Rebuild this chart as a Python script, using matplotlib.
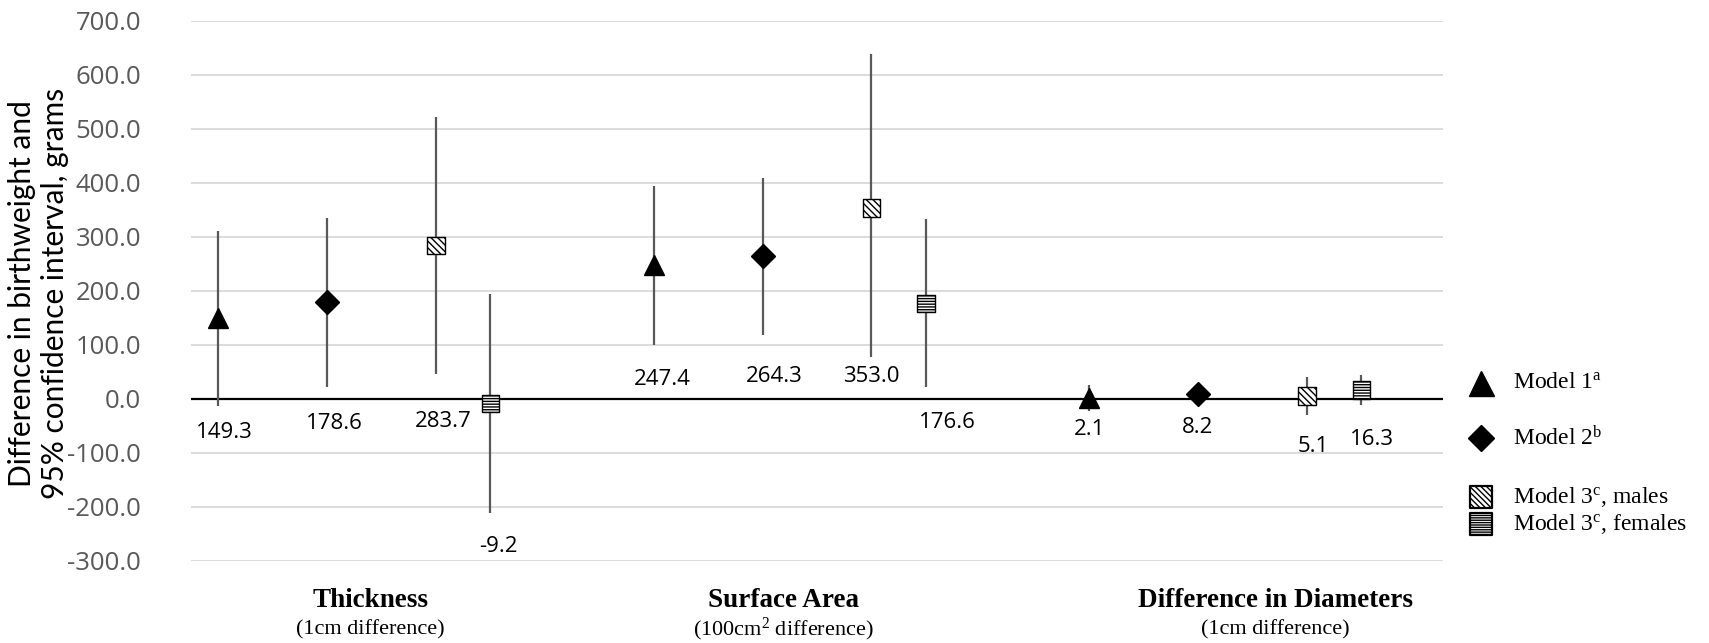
import matplotlib
matplotlib.use("Agg")
import matplotlib.pyplot as plt

# ---------------- data ----------------
groups = ["Thickness", "Surface Area", "Difference in Diameters"]
group_sub = ["(1cm difference)", "(100cm$^{2}$ difference)", "(1cm difference)"]

m1_est = [149.3, 247.4, 2.1]
m1_lo = [-13, 99, -22]
m1_hi = [311, 394, 25]

m2_est = [178.6, 264.3, 8.2]
m2_lo = [22, 118, -12]
m2_hi = [334, 409, 28]

m3m_est = [283.7, 353.0, 5.1]
m3m_lo = [46, 77, -30]
m3m_hi = [522, 638, 40]

m3f_est = [-9.2, 176.6, 16.3]
m3f_lo = [-212, 22, -12]
m3f_hi = [194, 332, 44]

yticks = [-300, -200, -100, 0, 100, 200, 300, 400, 500, 600, 700]

# ---------------- layout (not data) ----------------
model_offset = [0.0, 1.0, 2.0, 2.5]
group_step = 4.0
label_y = [[-62, 35, -57], [-46, 41, -54], [-43, 41, -89], [-274, -45, -76]]
label_dx = [[0.055, 0.08, 0.0], [0.07, 0.11, 0.0], [0.07, 0.0, 0.06], [0.07, 0.2, 0.1]]

plt.rcParams["mathtext.fontset"] = "custom"
plt.rcParams["mathtext.rm"] = "Liberation Serif"
plt.rcParams["mathtext.it"] = "Liberation Serif:italic"
plt.rcParams["mathtext.bf"] = "Liberation Serif:bold"
plt.rcParams["hatch.linewidth"] = 1.0

fig = plt.figure(figsize=(17.09, 6.43), dpi=100)
ax = fig.add_axes([0.1118, 0.128, 0.7325, 0.8398])

ax.set_xlim(0.75, 12.25)
ax.set_ylim(-300, 700)
ax.set_yticks(yticks)
ax.set_yticklabels([f"{v:.1f}" for v in yticks], fontsize=18.5, color="#595959",
                   family="Open Sans")
ax.tick_params(axis="y", length=0, pad=36)
ax.set_xticks([])
for s in ax.spines.values():
    s.set_visible(False)
ax.grid(axis="y", color="#d9d9d9", linewidth=1.3, zorder=0)
ax.set_axisbelow(True)
ax.axhline(0, color="black", linewidth=1.6, zorder=2)

series = [
    (m1_est, m1_lo, m1_hi),
    (m2_est, m2_lo, m2_hi),
    (m3m_est, m3m_lo, m3m_hi),
    (m3f_est, m3f_lo, m3f_hi),
]

err_color = "#595959"
for k, (est, lo, hi) in enumerate(series):
    xs = [g * group_step + 1 + model_offset[k] for g in range(len(groups))]
    ax.vlines(xs, lo, hi, color=err_color, linewidth=1.6, zorder=3)
    if k == 0:
        ax.plot(xs, est, linestyle="none", marker="^", markersize=13.7,
                color="black", zorder=5)
    elif k == 1:
        ax.plot(xs, est, linestyle="none", marker="D", markersize=12.5,
                color="black", zorder=5)
    elif k == 2:
        ax.scatter(xs, est, marker="s", s=12.5 ** 2, facecolor="white",
                   edgecolor="black", linewidth=1.0, hatch="\\\\\\\\\\", zorder=5)
    else:
        ax.scatter(xs, est, marker="s", s=12.5 ** 2, facecolor="white",
                   edgecolor="black", linewidth=1.0, hatch="------", zorder=5)
    for g, x in enumerate(xs):
        ax.text(x + label_dx[k][g], label_y[k][g], f"{est[g]:.1f}",
                ha="center", va="center", fontsize=16, family="Open Sans",
                color="black", zorder=6)

# category labels
cat_x = [2.40, 6.19, 10.71]
for g in range(len(groups)):
    ax.text(cat_x[g], -0.073, groups[g], transform=ax.get_xaxis_transform(),
            ha="center", va="center", fontsize=19.5, fontweight="bold",
            family="Liberation Serif")
    ax.text(cat_x[g], -0.128, group_sub[g], transform=ax.get_xaxis_transform(),
            ha="center", va="center", fontsize=16, family="Liberation Serif")

# y label
fig.text(0.0225, 0.543, "Difference in birthweight and\n95% confidence interval, grams",
         rotation=90, ha="center", va="center", fontsize=21.5, family="Lato",
         linespacing=1.25)

# legend (drawn manually)
leg_items = [
    ("^", r"Model 1$^{\mathrm{a}}$", 383, None),
    ("D", r"Model 2$^{\mathrm{b}}$", 438, None),
    ("s", r"Model 3$^{\mathrm{c}}$, males", 497, "\\\\\\\\\\\\"),
    ("s", r"Model 3$^{\mathrm{c}}$, females", 524, "-------"),
]
W, H = 1709.0, 643.0
lax = fig.add_axes([0, 0, 1, 1], facecolor="none")
lax.set_xlim(0, W)
lax.set_ylim(H, 0)
lax.axis("off")
for mk, lab, ypx, hatch in leg_items:
    if hatch is None:
        ms = 18 if mk == "^" else 13
        lax.plot([1481], [ypx], marker=mk, markersize=ms, color="black",
                 linestyle="none")
    else:
        lax.scatter([1481], [ypx], marker="s", s=16 ** 2, facecolor="white",
                    edgecolor="black", linewidth=1.6, hatch=hatch)
    lax.text(1513, ypx, lab, ha="left", va="center", fontsize=17,
             family="Liberation Serif")

fig.savefig("out.png", dpi=100)
